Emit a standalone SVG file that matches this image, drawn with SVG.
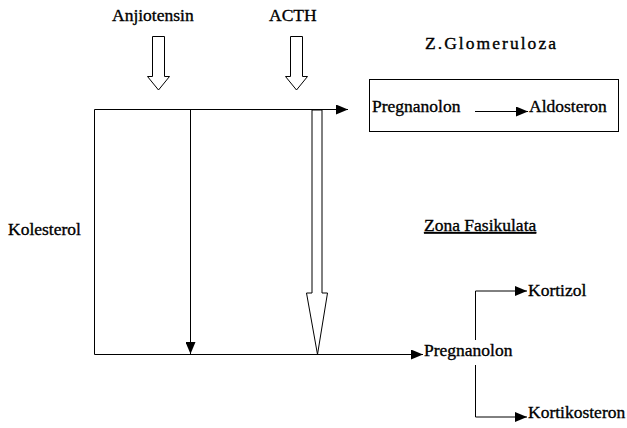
<svg xmlns="http://www.w3.org/2000/svg" width="627" height="428" viewBox="0 0 627 428">
<style>
text{font-family:"Liberation Serif",Tinos,"Times New Roman",serif;font-size:17.5px;fill:#000;stroke:#000;stroke-width:0.35}
.ln{fill:none;stroke:#000;stroke-width:1}
.hollow{fill:#fff;stroke:#000;stroke-width:1}
</style>
<defs>
<marker id="ah" viewBox="0 0 12 10" refX="12" refY="5" markerWidth="12" markerHeight="10" markerUnits="userSpaceOnUse" orient="auto">
<path d="M0,0 L12,5 L0,10 Z" fill="#000"/>
</marker>
</defs>
<rect width="627" height="428" fill="#fff"/>
<g id="connectors">
<polygon class="hollow" points="152.5,36.5 164.5,36.5 164.5,76.5 169.5,76.5 158.5,90 147.5,76.5 152.5,76.5"/>
<polygon class="hollow" points="290.5,36.5 302.5,36.5 302.5,76.5 307.5,76.5 296.5,90 285.5,76.5 290.5,76.5"/>
<path class="ln" d="M94.5,354.5 V109.5 H348" marker-end="url(#ah)"/>
<path class="ln" d="M190.5,109.5 V354" marker-end="url(#ah)"/>
<path class="ln" d="M94.5,354.5 H423" marker-end="url(#ah)"/>
<polygon class="hollow" points="312,110 322,110 322,293 327.5,293 317.5,354.5 306.5,293 312,293"/>
<path class="ln" d="M475,111.5 H528" marker-end="url(#ah)"/>
<path class="ln" d="M475.5,340 V291 H527" marker-end="url(#ah)"/>
<path class="ln" d="M475.5,365 V417 H527" marker-end="url(#ah)"/>
</g>
<g id="anjiotensin"><text x="112" y="21">Anjiotensin</text></g>
<g id="acth"><text x="269" y="21">ACTH</text></g>
<g id="z-glomeruloza"><text x="425" y="49" textLength="131" lengthAdjust="spacing">Z.Glomeruloza</text></g>
<g id="glomeruloza-box">
<rect x="369.5" y="79.5" width="249" height="52" fill="none" stroke="#000"/>
<text x="372" y="112">Pregnanolon</text>
<text x="529" y="112">Aldosteron</text>
</g>
<g id="kolesterol"><text x="8" y="235">Kolesterol</text></g>
<g id="zona-fasikulata"><text x="424" y="231" text-decoration="underline">Zona Fasikulata</text></g>
<g id="pregnanolon"><text x="424" y="356">Pregnanolon</text></g>
<g id="kortizol"><text x="528" y="296">Kortizol</text></g>
<g id="kortikosteron"><text x="528" y="418">Kortikosteron</text></g>
</svg>
